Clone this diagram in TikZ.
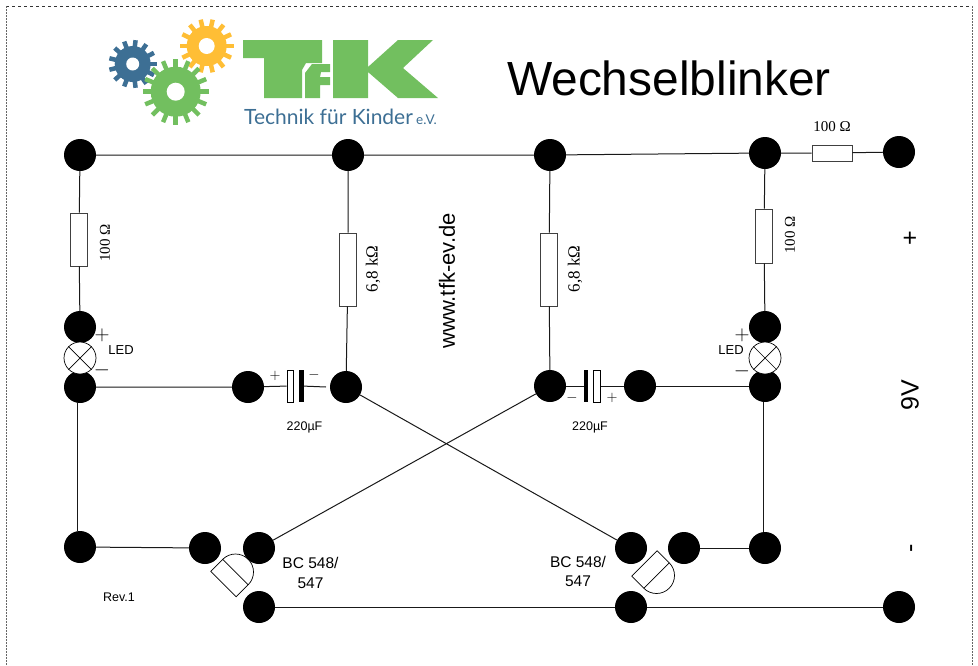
\documentclass[tikz,border=0pt]{standalone}
\usepackage{fontspec}
\setmainfont{Liberation Sans}
\newfontfamily\seriffont{Liberation Serif}
\newfontfamily\logofont{Lato}
\definecolor{tfkgreen}{HTML}{72BF5F}
\definecolor{tfkorange}{HTML}{FFBE35}
\definecolor{tfkblue}{HTML}{3D6F94}
\tikzset{
    wire/.style={line width=1pt, black!90},
    pad/.style={circle, fill=black, inner sep=0pt, minimum size=32pt},
    resv/.style={draw=black!75, fill=white, line width=0.9pt, inner sep=0pt, minimum width=17pt},
    resh/.style={draw=black!75, fill=white, line width=0.9pt, inner sep=0pt, minimum width=40pt, minimum height=16pt},
    lamp/.style={circle, draw, fill=white, line width=0.7pt, inner sep=0pt, minimum size=32pt},
    plate/.style={draw, fill=white, line width=0.6pt, inner sep=0pt, minimum width=6pt, minimum height=32pt},
    platebar/.style={fill=black, inner sep=0pt, minimum width=5pt, minimum height=32pt},
    txt/.style={inner sep=0pt, align=center, font=\fontsize{#1}{#1}\selectfont},
    txts/.style={inner sep=0pt, font=\seriffont\fontsize{#1}{#1}\selectfont}
}
% x, y, body, outer, hole, teeth, colour
\newcommand{\gearwheel}[7]{
    \begin{scope}[shift={(#1,#2)}]
        \fill[#7] (0,0) circle (#3pt);
        \foreach \k in {1,...,#6}
            \draw[#7, line width=4.5pt] (0,0) -- (\k*360/#6:#4pt);
        \fill[white] (0,0) circle (#5pt);
    \end{scope}
}
% x, y, rotation
\newcommand{\transistor}[3]{
    \begin{scope}[shift={(#1,#2)}, rotate=#3, line width=0.7pt]
        \draw (-18,0) rectangle (18,-17);
        \draw (18,0) arc (0:180:18pt);
    \end{scope}
}
\begin{document}
\begin{tikzpicture}[x=1pt, y=1pt]
    \useasboundingbox (0,0) rectangle (978,-665);

    % Rand
    \draw[dashed, line width=0.8pt, black!80] (6,-6) -- (972.5,-6);
    \draw[dash pattern=on 2pt off 1pt, line width=1pt, black!60] (6,-665) -- (6,-6);
    \draw[dash pattern=on 2pt off 1pt, line width=1pt, black!60] (972.5,-6) -- (972.5,-665);

    % Logo
    \gearwheel{132.7}{-64}{18}{24}{6.5}{13}{tfkblue}
    \gearwheel{206.7}{-46}{20}{27}{8}{14}{tfkorange}
    \gearwheel{175.7}{-91.7}{25}{33}{9}{16}{tfkgreen}
    \fill[tfkgreen] (243,-40) -- (322,-40) -- (322,-63) -- (306,-63) -- (302,-70) -- (302,-98) -- (264,-98) -- (264,-58) -- (243,-58) -- cycle;
    \fill[tfkgreen] (305,-98) -- (305,-73) -- (312,-64) -- (330,-64) -- (330,-72) -- (321,-72) -- (320,-77) -- (330,-77) -- (330,-85) -- (320,-85) -- (320,-98) -- cycle;
    \fill[tfkgreen] (333,-40) -- (368,-40) -- (368,-67) -- (398,-40) -- (433,-40) -- (403,-68) -- (438,-98) -- (398,-98) -- (368,-72) -- (368,-98) -- (333,-98) -- cycle;
    \node[inner sep=0pt, anchor=base west, text=tfkblue, font=\logofont\fontsize{21}{21}\selectfont] (logotext) at (244,-124) {Technik für Kinder};
    \node[inner sep=0pt, anchor=base west, text=tfkblue, font=\logofont\fontsize{13.5}{13}\selectfont] (logoev) at (416,-124) {e.V.};

    % Titel
    \node[txt=47.9, anchor=base] (title) at (669,-95) {Wechselblinker};
    \node[txt=22, rotate=90] (web) at (447,-281) {www.tfk-ev.de};

    % Obere Reihe
    \node[pad] (top1) at (80,-155) {};
    \node[pad] (top2) at (348,-155) {};
    \node[pad] (top3) at (550,-155) {};
    \node[pad] (top4) at (765,-153) {};
    \node[pad] (plus) at (899,-152) {};

    % Lampen
    \node[pad] (led1a) at (80,-327) {};
    \node[pad] (led1b) at (80,-387) {};
    \node[lamp] (led1) at (80,-358) {};
    \node[pad] (led2a) at (765,-327) {};
    \node[pad] (led2b) at (765,-386) {};
    \node[lamp] (led2) at (765,-358) {};
    \draw[line width=0.7pt] (led1.45) -- (led1.225) (led1.135) -- (led1.315);
    \draw[line width=0.7pt] (led2.45) -- (led2.225) (led2.135) -- (led2.315);

    % Mitte
    \node[pad] (cap1a) at (248,-387) {};
    \node[pad] (cap1b) at (346,-387) {};
    \node[pad] (cap2a) at (550,-386) {};
    \node[pad] (cap2b) at (640,-386) {};

    % Untere Reihe
    \node[pad] (low1) at (80,-547) {};
    \node[pad] (base1) at (205,-548) {};
    \node[pad] (coll1) at (259,-548) {};
    \node[pad] (emit1) at (259,-607) {};
    \node[pad] (coll2) at (631,-548) {};
    \node[pad] (base2) at (684,-548) {};
    \node[pad] (emit2) at (631,-607) {};
    \node[pad] (low2) at (765,-548) {};
    \node[pad] (minus) at (899,-607) {};

    % Widerstaende
    \node[resv, minimum height=53pt] (r1) at (79,-239.5) {};
    \node[resv, minimum height=73pt] (r2) at (348,-269.5) {};
    \node[resv, minimum height=73pt] (r3) at (549,-269.5) {};
    \node[resv, minimum height=54pt] (r4) at (764,-236) {};
    \node[resh] (r5) at (832,-153) {};

    % Kondensatoren
    \node[plate] (c1p) at (290,-386) {};
    \node[platebar] (c1m) at (301.5,-386) {};
    \coordinate (c1end) at (326,-387);
    \node[platebar, minimum width=4.5pt] (c2m) at (586,-386) {};
    \node[plate, minimum width=7pt] (c2p) at (597,-386) {};

    % Leitungen
    \draw[wire] (top1) -- (top2) -- (top3) -- (top4);
    \draw[wire] (top4) -- (r5) -- (plus);
    \draw[wire] (top1) -- (r1) -- (led1a);
    \draw[wire] (top2) -- (r2) -- (cap1b);
    \draw[wire] (top3) -- (r3) -- (cap2a);
    \draw[wire] (top4) -- (r4) -- (led2a);
    \draw[wire] (led1b) -- (cap1a) -- (c1p);
    \draw[wire] (c1m) -- (c1end);
    \draw[wire] (cap2a) -- (c2m);
    \draw[wire] (c2p) -- (cap2b) -- (led2b);
    \draw[wire] ([xshift=-3pt]led1b.south) -- ([xshift=-3pt]low1.north);
    \draw[wire] ([xshift=-2pt]led2b.south) -- ([xshift=-2pt]low2.north);
    \draw[wire] (low1) -- (base1);
    \draw[wire] (base2) -- (low2);
    \draw[wire] (cap1b) -- (coll2);
    \draw[wire] (cap2a) -- (coll1);
    \draw[wire] (emit1) -- (emit2) -- (minus);

    % Transistoren
    \transistor{235.5}{-572}{-45}
    \transistor{656.5}{-575.5}{-135}

    % Beschriftung
    \node[txts=15] (l100a) at (832,-127) {100 Ω};
    \node[txts=15, rotate=90] (l100b) at (105,-243) {100 Ω};
    \node[txts=15, rotate=90] (l100c) at (790,-235) {100 Ω};
    \node[txts=17, rotate=90] (l68a) at (373,-269) {6,8 kΩ};
    \node[txts=17, rotate=90] (l68b) at (575,-269) {6,8 kΩ};
    \node[txt=13] (led1l) at (121,-350) {LED};
    \node[txt=13] (led2l) at (731,-350) {LED};
    \node[txt=20] (led1p) at (102,-335) {$+$};
    \node[txt=20] (led1n) at (102,-370) {$-$};
    \node[txt=20] (led2p) at (742,-335) {$+$};
    \node[txt=20] (led2n) at (742,-371) {$-$};
    \node[txt=15] (c1pl) at (275,-376) {$+$};
    \node[txt=15] (c1nl) at (314,-375) {$-$};
    \node[txt=15] (c2nl) at (572,-398) {$-$};
    \node[txt=15] (c2pl) at (612,-398) {$+$};
    \node[txt=12.5] (c1l) at (304.5,-427) {220µF};
    \node[txt=12.5] (c2l) at (590,-427) {220µF};
    \node[txt=15.5] (q1l) at (310.5,-573) {BC 548/\\[4pt]547};
    \node[txt=15.5] (q2l) at (578,-571.5) {BC 548/\\[4pt]547};
    \node[txt=12.5] (rev) at (119,-597) {Rev.1};
    \node[txt=25] (plusl) at (910,-239) {+};
    \node[txt=25, rotate=90] (volt) at (910,-395) {9V};
    \node[txt=25, rotate=90] (minusl) at (914,-548) {-};

\end{tikzpicture}
\end{document}
